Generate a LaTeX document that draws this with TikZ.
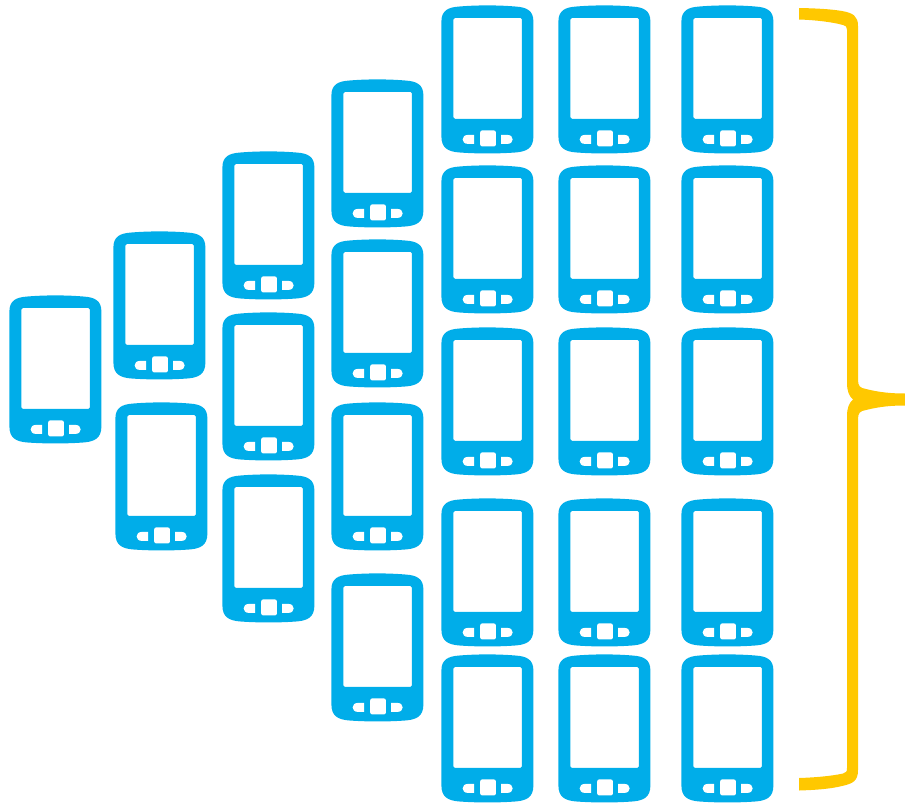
\documentclass[tikz,border=0pt]{standalone}
\definecolor{phoneblue}{HTML}{00ADE9}
\definecolor{braceyellow}{HTML}{FFC800}
\tikzset{
  phonebody/.style={fill=phoneblue,draw=none,even odd rule},
  phonekey/.style={fill=white,draw=none},
  braceshape/.style={fill=braceyellow,draw=none},
  phone/.pic={
    \fill[phonebody]
      (0,16) .. controls (0,5) and (7,2) .. (17,1.2)
      .. controls (35,-.4) and (57,-.4) .. (75,1.2)
      .. controls (85,2) and (92,5) .. (92,16)
      -- (92,131) .. controls (92,143) and (85,146) .. (75,147)
      .. controls (57,148.4) and (35,148.4) .. (17,147)
      .. controls (7,146) and (0,143) .. (0,131) -- cycle
      [rounded corners=1.5pt] (12,12.5) rectangle (80.5,113.5);
    \fill[phonekey,rounded corners=2pt] (38.8,125) rectangle (54.5,141);
    \fill[phonekey] (32.8,129.5) -- (32.8,138.5) -- (26.5,138.5)
      .. controls (19.5,138.5) and (19.5,129.5) .. (26.5,129.5) -- cycle;
    \fill[phonekey] (59.8,129.5) -- (59.8,138.5) -- (66,138.5)
      .. controls (73,138.5) and (73,129.5) .. (66,129.5) -- cycle;
  }
}
\begin{document}
\begin{tikzpicture}[x=1pt,y=-1pt]
\useasboundingbox (0,0) rectangle (905,803);
\foreach \px/\py in {
  10/296,
  114/232, 116/403,
  223/152, 223/313, 223/475,
  332/80, 332/240, 332/403, 332/574,
  442/6, 442/166, 442/328, 442/499, 442/655,
  559/6, 559/166, 559/328, 559/499, 559/655,
  682/6, 682/166, 682/328, 682/499, 682/655}
  \pic at (\px-0.6,\py-0.6) {phone};
\fill[braceshape] (799,8) .. controls (815,8.3) and (830,9) .. (842,11)
  .. controls (853,13) and (858,16) .. (858,26)
  -- (858,380) .. controls (858,386) and (860,388) .. (866,389)
  .. controls (880,392.5) and (892,393.5) .. (905,393.5)
  -- (905,405.5) .. controls (892,405.5) and (880,406.5) .. (866,410)
  .. controls (860,411) and (858,413) .. (858,419)
  -- (858,770) .. controls (858,781) and (853,783.5) .. (842,786)
  .. controls (830,789) and (815,790) .. (799,790.5)
  -- (799,778) .. controls (815,777.5) and (832,776) .. (843,773.5)
  .. controls (846,772.5) and (847,772) .. (847,768)
  -- (847,416) .. controls (847,408) and (849,403) .. (853,399.5)
  .. controls (849,396) and (847,391) .. (847,383)
  -- (847,30) .. controls (847,27) and (846,25.5) .. (843,25)
  .. controls (832,22) and (815,20) .. (799,19.5) -- cycle;
\end{tikzpicture}
\end{document}
